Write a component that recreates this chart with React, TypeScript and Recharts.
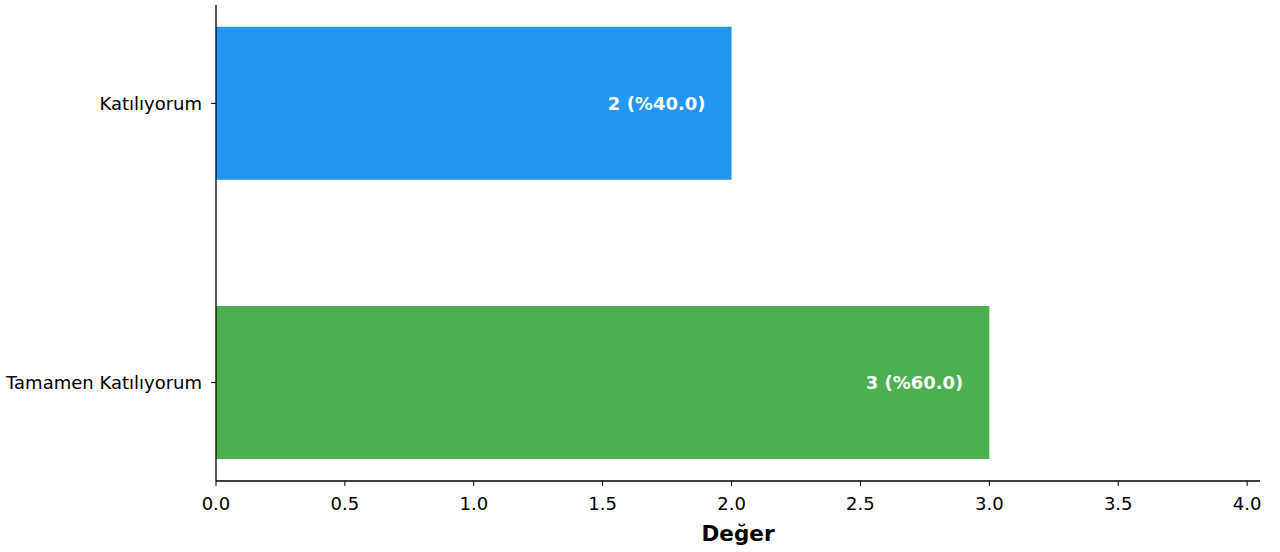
import React from 'react';
import { BarChart, Bar, XAxis, YAxis, Cell, LabelList } from 'recharts';

const categories = ['Katılıyorum', 'Tamamen Katılıyorum'];
const values = [2, 3];
const percents = [40.0, 60.0];
const colors = ['#2196F3', '#4CAF50'];
const xTicks = [0, 0.5, 1, 1.5, 2, 2.5, 3, 3.5, 4];

const data = categories.map((c, i) => ({ idx: i, name: c, value: values[i], pct: percents[i] }));

const FONT = 'DejaVu Sans, sans-serif';

const BarLabel = (props: any) => {
  const { x, y, width, height, index } = props;
  const d = data[index];
  return (
    <text
      x={x + width - 26}
      y={y + height / 2}
      textAnchor="end"
      dominantBaseline="central"
      fill="#ffffff"
      fontWeight="bold"
      fontSize={18}
      fontFamily={FONT}
    >
      {`${d.value} (%${d.pct.toFixed(1)})`}
    </text>
  );
};

export default function App() {
  return (
    <div style={{ position: 'absolute', left: 0, top: 0, background: '#fff' }}>
      <BarChart
        width={1280}
        height={552}
        data={data}
        layout="vertical"
        margin={{ top: 5, right: 20, bottom: 0, left: 0 }}
      >
        <XAxis
          type="number"
          dataKey="value"
          domain={[0, 4.05]}
          ticks={xTicks}
          allowDataOverflow
          tickFormatter={(v: number) => v.toFixed(1)}
          stroke="#000"
          tickLine={{ stroke: '#000' }}
          axisLine={{ stroke: '#000', strokeWidth: 1.3 }}
          tickSize={5}
          tickMargin={11}
          tick={{ fill: '#000', fontSize: 18, fontFamily: FONT }}
          height={71}
          label={{ value: 'Değer', position: 'insideBottom', offset: 11, fill: '#000', fontSize: 21.5, fontWeight: 'bold', fontFamily: FONT }}
        />
        <YAxis
          type="number"
          dataKey="idx"
          domain={[-0.3525, 1.3525]}
          ticks={[0, 1]}
          allowDataOverflow
          tickFormatter={(v: number) => categories[v] ?? ''}
          width={216}
          stroke="#000"
          tickLine={{ stroke: '#000' }}
          axisLine={{ stroke: '#000', strokeWidth: 1.3 }}
          tickSize={5}
          tickMargin={9}
          tick={{ fill: '#000', fontSize: 18, fontFamily: FONT }}
        />
        <Bar dataKey="value" barSize={153} isAnimationActive={false}>
          {data.map((d, i) => (
            <Cell key={d.name} fill={colors[i]} />
          ))}
          <LabelList dataKey="value" content={BarLabel} />
        </Bar>
      </BarChart>
    </div>
  );
}
